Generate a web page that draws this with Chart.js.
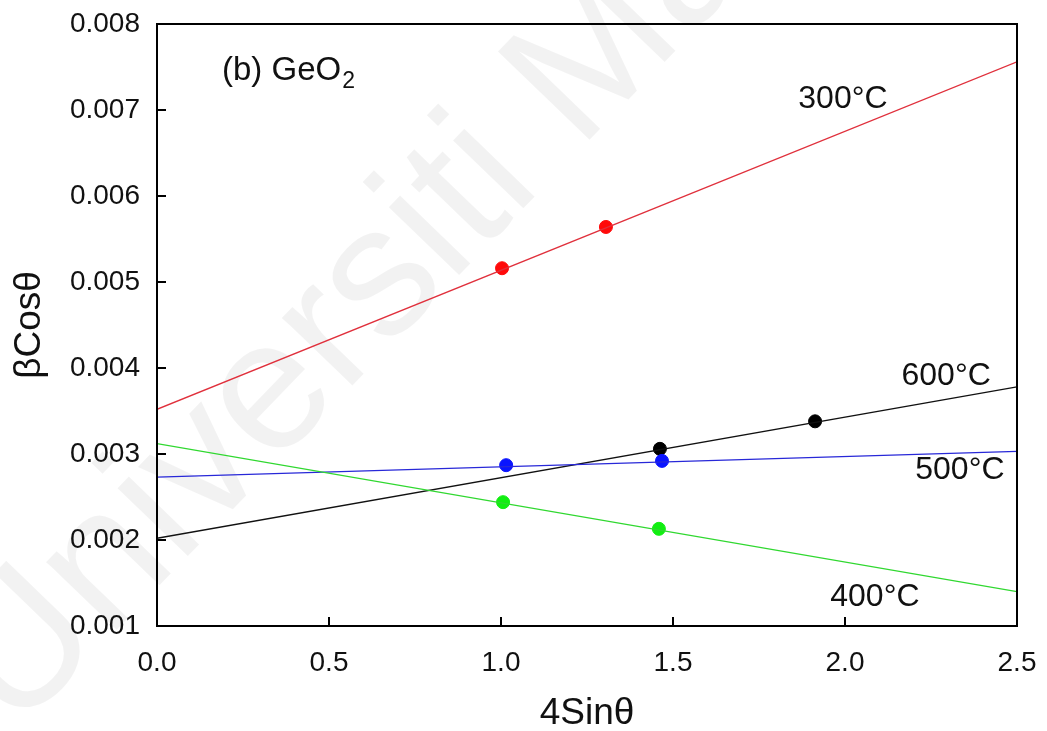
<!DOCTYPE html>
<html>
<head>
<meta charset="utf-8">
<script src="https://cdn.jsdelivr.net/npm/chart.js@4.4.1/dist/chart.umd.min.js"></script>
<style>
  body { margin: 0; background: #fff; }
  #wrap { width: 1047px; height: 731px; position: relative; }
</style>
</head>
<body>
<div id="wrap"><canvas id="myChart"></canvas></div>
<script>
// values
const lineX = [0, 2.5];

const x300 = [1.003, 1.305];
const y300 = [0.00516, 0.00564];
const fit300 = [0.00352, 0.00756];

const x400 = [1.006, 1.459];
const y400 = [0.00244, 0.00213];
const fit400 = [0.00312, 0.00140];

const x500 = [1.015, 1.468];
const y500 = [0.00287, 0.00292];
const fit500 = [0.00273, 0.00303];

const x600 = [1.462, 1.913];
const y600 = [0.00306, 0.00338];
const fit600 = [0.00202, 0.00378];

const xTicks = [0.5, 1.0, 1.5, 2.0];
const yTicks = [0.002, 0.003, 0.004, 0.005, 0.006, 0.007];

const labels = ['300°C', '400°C', '500°C', '600°C'];
const labelX = [1.994, 2.087, 2.334, 2.294];
const labelY = [0.00713, 0.00134, 0.00281, 0.00390];

const FONT = '"Liberation Sans", Arial, sans-serif';

function pts(xs, ys) {
    return xs.map((x, i) => ({x: x, y: ys[i]}));
}

function fitLine(ys, color) {
    return {
        type: 'line',
        data: pts(lineX, ys),
        borderColor: color,
        borderWidth: 1.3,
        pointRadius: 0,
        fill: false
    };
}

function dots(xs, ys, color) {
    return {
        type: 'scatter',
        data: pts(xs, ys),
        backgroundColor: color,
        borderColor: color,
        pointRadius: 6.5,
        pointHoverRadius: 6.5
    };
}

// faint watermark behind the plot
const watermark = {
    id: 'watermark',
    beforeDraw(chart) {
        const c = chart.ctx;
        c.save();
        c.translate(15, 735);
        c.rotate(-46 * Math.PI / 180);
        c.font = '185px ' + FONT;
        c.fillStyle = 'rgba(0,0,0,0.05)';
        c.fillText('Universiti Malaya', 0, 0);
        c.restore();
    }
};

// frame, inward ticks and text labels
const frame = {
    id: 'frame',
    afterDraw(chart) {
        const c = chart.ctx;
        const a = chart.chartArea;
        const sx = chart.scales.x;
        const sy = chart.scales.y;
        c.save();
        c.strokeStyle = '#000';
        c.lineWidth = 2;
        c.strokeRect(a.left, a.top, a.right - a.left, a.bottom - a.top);
        c.beginPath();
        yTicks.forEach(v => {
            const py = Math.round(sy.getPixelForValue(v));
            c.moveTo(a.left, py);
            c.lineTo(a.left + 9, py);
        });
        xTicks.forEach(v => {
            const px = Math.round(sx.getPixelForValue(v));
            c.moveTo(px, a.bottom);
            c.lineTo(px, a.bottom - 9);
        });
        c.stroke();

        c.fillStyle = '#111';
        c.font = '32px ' + FONT;
        c.textAlign = 'center';
        c.textBaseline = 'middle';
        labels.forEach((t, i) => {
            c.fillText(t, sx.getPixelForValue(labelX[i]), sy.getPixelForValue(labelY[i]));
        });

        // (b) GeO2 with subscript
        c.textAlign = 'left';
        let tx = sx.getPixelForValue(0.189);
        const ty = sy.getPixelForValue(0.00746);
        c.font = '33px ' + FONT;
        c.fillText('(b) GeO', tx, ty);
        tx += c.measureText('(b) GeO').width + 1;
        c.font = '23px ' + FONT;
        c.fillText('2', tx, ty + 11);
        c.restore();
    }
};

const ctx = document.getElementById('myChart');

const myChart = new Chart(ctx, {
    data: {
        datasets: [
            fitLine(fit300, '#e0303c'),
            fitLine(fit400, '#30d830'),
            fitLine(fit500, '#2828d8'),
            fitLine(fit600, '#111111'),
            dots(x300, y300, '#ff0a0a'),
            dots(x400, y400, '#12ee12'),
            dots(x500, y500, '#0a14ff'),
            dots(x600, y600, '#000000')
        ]
    },
    options: {
        responsive: true,
        maintainAspectRatio: false,
        animation: false,
        events: [],
        layout: { padding: { top: 24, right: 30, left: 0, bottom: 0 } },
        plugins: {
            legend: { display: false },
            tooltip: { enabled: false }
        },
        scales: {
            x: {
                type: 'linear',
                min: 0,
                max: 2.5,
                grid: { display: false },
                border: { display: false },
                ticks: {
                    stepSize: 0.5,
                    padding: 12,
                    color: '#111',
                    font: { family: FONT, size: 28 },
                    callback: v => v.toFixed(1)
                },
                title: {
                    display: true,
                    text: '4Sinθ',
                    color: '#111',
                    padding: { top: 0, bottom: -5 },
                    font: { family: FONT, size: 37 }
                },
                afterFit: s => {
                    s.height = 105;
                    s.paddingLeft = 0;
                    s.paddingRight = 0;
                }
            },
            y: {
                type: 'linear',
                min: 0.001,
                max: 0.008,
                grid: { display: false },
                border: { display: false },
                ticks: {
                    stepSize: 0.001,
                    padding: 9,
                    color: '#111',
                    font: { family: FONT, size: 28 },
                    callback: v => v.toFixed(3)
                },
                title: {
                    display: true,
                    text: 'βCosθ',
                    color: '#111',
                    padding: { top: 8, bottom: 0 },
                    font: { family: FONT, size: 37 }
                },
                afterFit: s => {
                    s.width = 157;
                    s.paddingTop = 0;
                    s.paddingBottom = 0;
                }
            }
        }
    },
    plugins: [watermark, frame]
});
</script>
</body>
</html>
